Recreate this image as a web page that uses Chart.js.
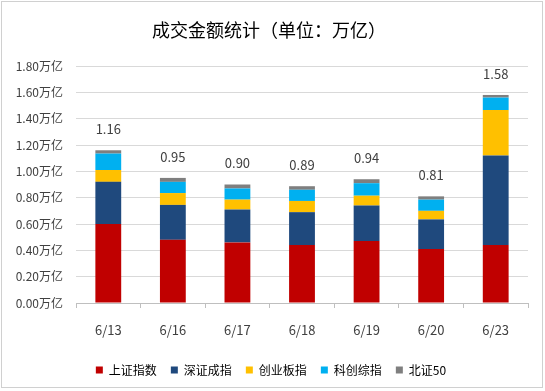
<!DOCTYPE html>
<html><head><meta charset="utf-8">
<script src="https://cdn.jsdelivr.net/npm/chart.js@4"></script>
<style>html,body{margin:0;padding:0;background:#fff;}#wrap{width:545px;height:391px;}</style>
</head><body><div id="wrap"><canvas id="c" width="545" height="391"></canvas></div>
<script>
const categories = ['6/13','6/16','6/17','6/18','6/19','6/20','6/23'];
const shIndex  = [0.60,0.48,0.46,0.44,0.47,0.41,0.44];
const szIndex  = [0.32,0.265,0.25,0.25,0.27,0.225,0.68];
const cyIndex  = [0.09,0.09,0.075,0.085,0.075,0.065,0.345];
const kcIndex  = [0.125,0.085,0.085,0.085,0.095,0.085,0.095];
const bz50     = [0.025,0.03,0.03,0.027,0.03,0.025,0.02];
const totals   = ['1.16','0.95','0.90','0.89','0.94','0.81','1.58'];
const seriesNames = ['上证指数','深证成指','创业板指','科创综指','北证50'];
const yTicks = [0,0.2,0.4,0.6,0.8,1.0,1.2,1.4,1.6,1.8];
const titleText = '成交金额统计（单位：万亿）';

const FONT = "'Noto Sans CJK SC', 'Noto Sans', sans-serif";
const colors = ['#C00000','#1F497D','#FFC000','#00B0F0','#7F7F7F'];
const seriesData = [shIndex, szIndex, cyIndex, kcIndex, bz50];

const decor = {
  id:'decor',
  beforeDraw(chart){
    const ctx = chart.ctx;
    ctx.save();
    ctx.fillStyle='#fff'; ctx.fillRect(0,0,chart.width,chart.height);
    ctx.strokeStyle='#D0D0D0'; ctx.lineWidth=1;
    ctx.strokeRect(1.5,1.5,541,386);
    ctx.fillStyle='#000';
    ctx.font = "18px " + FONT;
    ctx.textAlign='center'; ctx.textBaseline='middle';
    ctx.fillText(titleText, 269, 30);
    ctx.restore();
  },
  afterDatasetsDraw(chart){
    const ctx = chart.ctx;
    const y = chart.scales.y, x = chart.scales.x;
    ctx.save();
    ctx.fillStyle='#404040';
    ctx.font = "13px " + FONT;
    ctx.textAlign='center'; ctx.textBaseline='middle';
    categories.forEach((c,i)=>{
      let s=0; seriesData.forEach(d=>s+=d[i]);
      ctx.fillText(totals[i], x.getPixelForValue(i), y.getPixelForValue(s)-21);
    });
    ctx.restore();
  }
};

new Chart(document.getElementById('c'), {
  type:'bar',
  data:{
    labels: categories,
    datasets: seriesNames.map((n,i)=>({
      label:n, data:seriesData[i], backgroundColor:colors[i],
      borderWidth:0, categoryPercentage:1, barPercentage:0.4
    }))
  },
  options:{
    responsive:false, animation:false,
    layout:{padding:{top:66,left:14,right:17,bottom:5}},
    plugins:{
      title:{display:false}, tooltip:{enabled:false},
      legend:{
        position:'bottom',
        labels:{boxWidth:7, boxHeight:7, padding:14, color:'#000', font:{family:FONT, size:12}}
      }
    },
    scales:{
      x:{
        stacked:true,
        grid:{display:true, offset:true, drawOnChartArea:false, tickLength:5, color:'#BFBFBF'},
        border:{display:true, color:'#BFBFBF'},
        ticks:{padding:14, color:'#404040', font:{family:FONT, size:13}},
        afterFit(s){ s.height = 47; }
      },
      y:{
        stacked:true, min:0, max:1.8,
        afterBuildTicks(s){ s.ticks = yTicks.map(v=>({value:v})); },
        grid:{color:'#D9D9D9', drawTicks:false},
        border:{display:false},
        ticks:{padding:13, color:'#404040', font:{family:FONT, size:12},
          callback:(v)=>Number(v).toFixed(2)+'万亿'},
        afterFit(s){ s.width = 62; }
      }
    }
  },
  plugins:[decor]
});
</script></body></html>
